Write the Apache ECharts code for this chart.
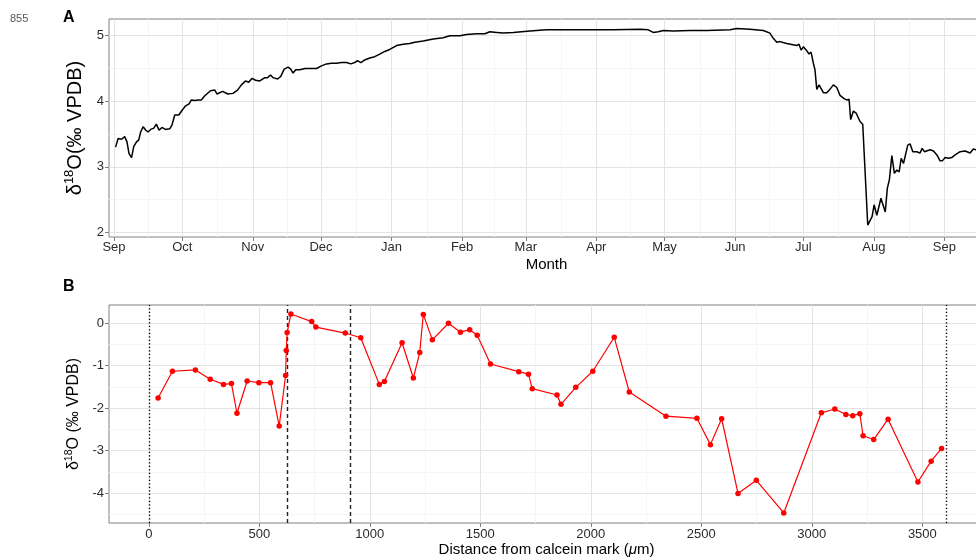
<!DOCTYPE html>
<html><head><meta charset="utf-8">
<script src="https://cdn.jsdelivr.net/npm/echarts@6/dist/echarts.min.js"></script>
<style>html,body{margin:0;padding:0;background:#fff}#c{width:976px;height:560px}</style>
</head><body><div id="c"></div>
<script>
// ---- Panel A data: days since 1 Sep 2013, d18O (per mil VPDB)
const daysA = [
0.7,1.8,3.3,4.7,5.7,6.6,7.7,8.7,9.9,10.9,
11.7,12.8,13.9,15.0,16.1,17.5,18.6,19.8,21.1,22.6,
24.5,25.5,26.7,28.5,30.1,31.5,33.0,34.0,35.5,36.9,
38.4,39.8,42.4,44.3,45.3,47.7,48.4,50.0,52.3,54.3,
56.0,57.8,59.2,60.7,62.2,64.1,66.3,67.5,68.8,69.9,
71.9,73.3,74.8,76.5,77.7,78.7,79.9,81.7,83.9,86.5,
89.0,91.2,93.4,95.6,97.8,100.0,102.2,104.1,105.8,107.0,
108.5,110.2,112.4,114.6,116.8,119.0,121.2,124.2,127.1,130.0,
132.2,135.9,140.3,144.7,147.6,152.0,155.0,159.4,163.0,163.8,
165.2,168.2,171.1,175.5,182.8,190.1,197.4,204.8,212.1,219.4,
231.2,234.8,237.0,239.2,241.4,245.8,253.2,260.5,270.8,273.7,
279.5,285.4,288.3,289.8,291.3,292.7,295.7,300.1,301.1,302.0,
303.0,304.5,305.5,306.4,307.4,308.1,308.9,309.9,311.8,313.3,
314.4,316.2,317.7,319.1,320.9,322.1,323.1,323.8,325.0,326.2,
327.9,329.1,331.3,332.0,333.2,334.1,335.3,337.1,337.9,339.0,
339.9,340.8,341.9,343.0,344.1,345.1,346.0,347.0,347.8,348.9,
349.9,351.1,352.8,354.3,355.2,356.2,358.7,360.2,361.7,363.1,
364.1,365.3,366.8,368.2,369.7,371.9,374.1,376.3,377.7,378.9,
382.0];
const valuesA = [
3.30,3.43,3.42,3.46,3.38,3.20,3.14,3.31,3.38,3.41,
3.53,3.61,3.56,3.53,3.57,3.59,3.65,3.56,3.60,3.57,
3.58,3.64,3.79,3.79,3.87,3.93,3.96,4.02,4.01,4.02,
4.02,4.08,4.16,4.17,4.11,4.15,4.18,4.11,4.12,4.17,
4.25,4.31,4.29,4.35,4.32,4.31,4.36,4.36,4.40,4.36,
4.34,4.38,4.49,4.52,4.49,4.43,4.48,4.48,4.50,4.50,
4.50,4.54,4.57,4.58,4.58,4.59,4.59,4.57,4.59,4.62,
4.59,4.63,4.66,4.68,4.72,4.76,4.79,4.85,4.87,4.88,
4.90,4.92,4.95,4.97,5.00,5.00,5.02,5.03,5.03,5.00,
5.06,5.05,5.04,5.05,5.07,5.09,5.09,5.09,5.09,5.09,
5.10,5.09,5.05,5.06,5.08,5.07,5.08,5.08,5.09,5.11,
5.10,5.08,5.04,4.96,4.90,4.91,4.88,4.85,4.87,4.78,
4.83,4.77,4.72,4.75,4.58,4.48,4.18,4.25,4.13,4.13,
4.17,4.25,4.21,4.09,4.04,4.02,4.03,3.72,3.85,3.82,
3.69,3.65,2.11,2.08,2.24,2.42,2.26,2.52,2.51,2.31,
2.67,2.80,3.17,2.90,2.95,2.92,3.13,3.05,3.08,3.33,
3.35,3.23,3.23,3.21,3.28,3.23,3.26,3.24,3.18,3.09,
3.09,3.14,3.13,3.14,3.18,3.23,3.24,3.21,3.27,3.26,
3.25];
const monthLabels = ['Sep','Oct','Nov','Dec','Jan','Feb','Mar','Apr','May','Jun','Jul','Aug','Sep'];
const yTicksA = [2,3,4,5];
const yMinorA = [2.5,3.5,4.5];

// ---- Panel B data: distance from calcein mark (um), d18O
const distB = [42,107,211,278,338,374,399,445,498,551,
590,619,622,626,643,737,756,889,959,1043,
1066,1146,1197,1226,1242,1283,1356,1410,1452,1486,
1546,1674,1718,1735,1847,1865,1932,2009,2106,2174,
2340,2480,2541,2592,2666,2749,2873,3043,3104,3154,
3185,3217,3232,3280,3345,3480,3540,3587];
const valuesB = [-1.76,-1.13,-1.10,-1.32,-1.44,-1.42,-2.12,-1.36,-1.40,-1.40,
-2.42,-1.23,-0.64,-0.22,0.22,0.04,-0.09,-0.23,-0.34,-1.44,
-1.37,-0.46,-1.29,-0.69,0.21,-0.39,0.00,-0.21,-0.15,-0.28,
-0.96,-1.14,-1.20,-1.54,-1.69,-1.91,-1.51,-1.13,-0.33,-1.62,
-2.19,-2.24,-2.86,-2.25,-4.01,-3.70,-4.47,-2.11,-2.02,-2.15,
-2.18,-2.13,-2.65,-2.74,-2.26,-3.74,-3.25,-2.95];
const xTicksB = [0,500,1000,1500,2000,2500,3000,3500];
const xMinorB = [250,750,1250,1750,2250,2750,3250,3750];
const yTicksB = [-4,-3,-2,-1,0];
const yMinorB = [-4.5,-3.5,-2.5,-1.5,-0.5];
const dottedB = [0,3606];
const dashedB = [628,912];

// ---- build
const FONT = '"Liberation Sans", Arial, Helvetica, sans-serif';
const DAY = 86400000;
const T0 = Date.UTC(2013, 8, 1);
// month starts, expressed in days since 1 Sep 2013
const monthTicks = monthLabels.map((m,i)=>(Date.UTC(2013, 8+i, 1)-T0)/DAY);
const monthMinor = monthTicks.slice(1).map((t,i)=>(t+monthTicks[i])/2);
const xMinA = -2.2, xMaxA = xMinA + 384.6;
const seriesA = daysA.map((d,i)=>[d, valuesA[i]]);
const seriesB = distB.map((d,i)=>[d, valuesB[i]]);

const MAJOR = '#e4e4e4', MINOR = '#f5f5f5', TICK = '#7f7f7f', LBL = '#2b2b2b';

function gridLines(ai, xs, ys, color, z){
  return {type:'line', xAxisIndex:ai, yAxisIndex:ai, data:[], silent:true, z:z, animation:false,
    markLine:{silent:true, symbol:['none','none'], label:{show:false}, animation:false,
      emphasis:{disabled:true},
      lineStyle:{color:color, width:1, type:'solid'},
      data:[...xs.map(v=>({xAxis:v})), ...ys.map(v=>({yAxis:v}))]}};
}
function vLines(ai, xs, type, color, width, z){
  return {type:'line', xAxisIndex:ai, yAxisIndex:ai, data:[], silent:true, z:z, animation:false,
    markLine:{silent:true, symbol:['none','none'], label:{show:false}, animation:false,
      emphasis:{disabled:true},
      lineStyle:{color:color, width:width, type:type},
      data:xs.map(v=>({xAxis:v}))}};
}
const tickStyle = {show:true, length:4, lineStyle:{color:TICK, width:1}};
const lblStyle = {fontSize:13, color:LBL, fontFamily:FONT};
const yNameA = {a:{fontSize:20, color:'#000', fontFamily:FONT, lineHeight:24},
                s:{fontSize:13, color:'#000', fontFamily:FONT, lineHeight:10, verticalAlign:'top'}};
const yNameB = {a:{fontSize:16, color:'#000', fontFamily:FONT, lineHeight:19},
                s:{fontSize:10.5, color:'#000', fontFamily:FONT, lineHeight:8, verticalAlign:'top'}};

const option = {
  animation:false,
  backgroundColor:'#fff',
  grid:[
    {left:109, top:19, width:875, height:218, outerBoundsMode:'none', containLabel:false,
     show:true, borderColor:'#808080', borderWidth:1, backgroundColor:'rgba(0,0,0,0)'},
    {left:109, top:305, width:875, height:218, outerBoundsMode:'none', containLabel:false,
     show:true, borderColor:'#808080', borderWidth:1, backgroundColor:'rgba(0,0,0,0)'}
  ],
  xAxis:[
    {type:'value', gridIndex:0, min:xMinA, max:xMaxA,
     axisLine:{show:false, onZero:false}, splitLine:{show:false},
     axisTick:Object.assign({customValues:monthTicks}, tickStyle),
     axisLabel:Object.assign({customValues:monthTicks, margin:4,
       formatter:function(v){let bi=0,bd=Infinity;monthTicks.forEach((t,i)=>{const d=Math.abs(t-v);if(d<bd){bd=d;bi=i;}});return monthLabels[bi];}}, lblStyle),
     name:'Month', nameLocation:'middle', nameGap:20,
     nameTextStyle:{fontSize:15, color:'#000', fontFamily:FONT}},
    {type:'value', gridIndex:1, min:-180, max:3779,
     axisLine:{show:false, onZero:false}, splitLine:{show:false},
     axisTick:Object.assign({customValues:xTicksB}, tickStyle),
     axisLabel:Object.assign({customValues:xTicksB, margin:5, formatter:v=>String(v)}, lblStyle),
     name:'{a|Distance from calcein mark (}{i|μ}{a|m)}', nameLocation:'middle', nameGap:16,
     nameTextStyle:{rich:{a:{fontSize:15, color:'#000', fontFamily:FONT}, i:{fontSize:15, color:'#000', fontFamily:FONT, fontStyle:'italic'}}}}
  ],
  yAxis:[
    {type:'value', gridIndex:0, min:1.928, max:5.255,
     axisLine:{show:false, onZero:false}, splitLine:{show:false},
     axisTick:Object.assign({customValues:yTicksA}, tickStyle),
     axisLabel:Object.assign({customValues:yTicksA, margin:5, formatter:v=>String(v)}, lblStyle),
     name:'{a|δ}{s|18}{a|O(‰ VPDB)}', nameLocation:'middle', nameRotate:90, nameGap:22,
     nameTextStyle:{rich:yNameA}},
    {type:'value', gridIndex:1, min:-4.707, max:0.431,
     axisLine:{show:false, onZero:false}, splitLine:{show:false},
     axisTick:Object.assign({customValues:yTicksB}, tickStyle),
     axisLabel:Object.assign({customValues:yTicksB, margin:5, formatter:v=>String(v)}, lblStyle),
     name:'{a|δ}{s|18}{a|O (‰ VPDB)}', nameLocation:'middle', nameRotate:90, nameGap:23,
     nameTextStyle:{rich:yNameB}}
  ],
  series:[
    gridLines(0, monthMinor, yMinorA, MINOR, 1),
    gridLines(0, monthTicks, yTicksA, MAJOR, 2),
    {type:'line', xAxisIndex:0, yAxisIndex:0, data:seriesA, showSymbol:false, symbol:'none',
     lineStyle:{color:'#000', width:1.5}, z:5, clip:true},
    gridLines(1, xMinorB, yMinorB, MINOR, 1),
    gridLines(1, xTicksB, yTicksB, MAJOR, 2),
    vLines(1, dottedB, [1.3,2.2], '#000', 1.4, 3),
    vLines(1, dashedB, [4,3], '#222', 1.4, 3),
    {type:'line', xAxisIndex:1, yAxisIndex:1, data:seriesB, symbol:'circle', symbolSize:5.5,
     itemStyle:{color:'#ff0000'}, lineStyle:{color:'#ff0000', width:1.2}, z:5, clip:true}
  ],
  graphic:[
    {type:'text', left:10, top:13, style:{text:'855', fontSize:11, fill:'#555', fontFamily:FONT}},
    {type:'text', left:63, top:10, style:{text:'A', fontSize:16, fontWeight:'bold', fill:'#000', fontFamily:FONT}},
    {type:'text', left:63, top:279, style:{text:'B', fontSize:16, fontWeight:'bold', fill:'#000', fontFamily:FONT}}
  ]
};
const chart = echarts.init(document.getElementById('c'), null, {renderer:'canvas'});
chart.setOption(option);
</script></body></html>
